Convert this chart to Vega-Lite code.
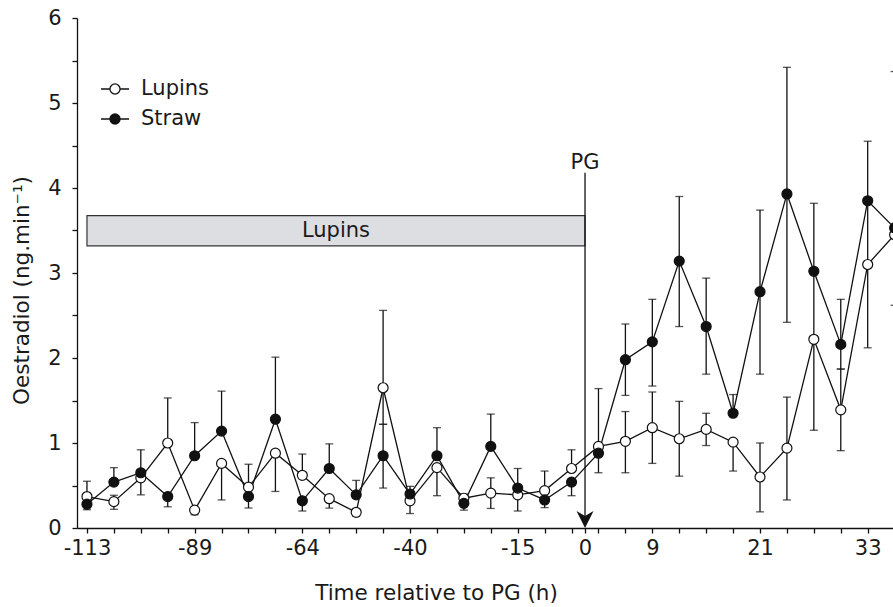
{
  "$schema": "https://vega.github.io/schema/vega-lite/v6.json",
  "autosize": {"type": "none"},
  "padding": {"left": 77, "top": 18, "right": 0, "bottom": 79},
  "width": 816,
  "height": 510,
  "background": "white",
  "config": {
    "view": {"stroke": null},
    "font": "DejaVu Sans",
    "axis": {
      "domainColor": "#111",
      "domainWidth": 1.3,
      "tickColor": "#111",
      "tickWidth": 1.3,
      "tickSize": 5,
      "labelFont": "DejaVu Sans",
      "labelFontSize": 21,
      "labelColor": "#1a1a1a",
      "labelOverlap": false,
      "labelBound": false,
      "titleFont": "DejaVu Sans",
      "titleFontSize": 21.5,
      "titleFontWeight": "normal",
      "titleColor": "#1a1a1a",
      "grid": false
    },
    "legend": {"labelFont": "DejaVu Sans"}
  },
  "datasets": {
    "obs": [
      {"series": "Lupins", "sample": 0, "value": 0.37, "lo": 0.37, "hi": 0.55},
      {"series": "Lupins", "sample": 1, "value": 0.31, "lo": 0.22, "hi": 0.385},
      {"series": "Lupins", "sample": 2, "value": 0.59, "lo": 0.39, "hi": 0.59},
      {"series": "Lupins", "sample": 3, "value": 1.0, "lo": 1.0, "hi": 1.53},
      {"series": "Lupins", "sample": 4, "value": 0.21, "lo": 0.155, "hi": 0.21},
      {"series": "Lupins", "sample": 5, "value": 0.76, "lo": 0.33, "hi": 0.76},
      {"series": "Lupins", "sample": 6, "value": 0.48, "lo": 0.48, "hi": 0.75},
      {"series": "Lupins", "sample": 7, "value": 0.88, "lo": 0.43, "hi": 0.88},
      {"series": "Lupins", "sample": 8, "value": 0.62, "lo": 0.62, "hi": 0.87},
      {"series": "Lupins", "sample": 9, "value": 0.345, "lo": 0.235, "hi": 0.345},
      {"series": "Lupins", "sample": 10, "value": 0.185, "lo": 0.14, "hi": 0.185},
      {"series": "Lupins", "sample": 11, "value": 1.65, "lo": 1.22, "hi": 2.56},
      {"series": "Lupins", "sample": 12, "value": 0.32, "lo": 0.17, "hi": 0.32},
      {"series": "Lupins", "sample": 13, "value": 0.71, "lo": 0.38, "hi": 0.71},
      {"series": "Lupins", "sample": 14, "value": 0.35, "lo": 0.35, "hi": 0.4},
      {"series": "Lupins", "sample": 15, "value": 0.41, "lo": 0.23, "hi": 0.59},
      {"series": "Lupins", "sample": 16, "value": 0.39, "lo": 0.2, "hi": 0.39},
      {"series": "Lupins", "sample": 17, "value": 0.44, "lo": 0.44, "hi": 0.67},
      {"series": "Lupins", "sample": 18, "value": 0.7, "lo": 0.7, "hi": 0.92},
      {"series": "Lupins", "sample": 19, "value": 0.96, "lo": 0.96, "hi": 1.64},
      {"series": "Lupins", "sample": 20, "value": 1.02, "lo": 0.65, "hi": 1.37},
      {"series": "Lupins", "sample": 21, "value": 1.18, "lo": 0.76, "hi": 1.6},
      {"series": "Lupins", "sample": 22, "value": 1.05, "lo": 0.61, "hi": 1.49},
      {"series": "Lupins", "sample": 23, "value": 1.16, "lo": 0.97, "hi": 1.35},
      {"series": "Lupins", "sample": 24, "value": 1.01, "lo": 0.67, "hi": 1.01},
      {"series": "Lupins", "sample": 25, "value": 0.6, "lo": 0.19, "hi": 1.0},
      {"series": "Lupins", "sample": 26, "value": 0.94, "lo": 0.33, "hi": 1.54},
      {"series": "Lupins", "sample": 27, "value": 2.22, "lo": 1.15, "hi": 2.22},
      {"series": "Lupins", "sample": 28, "value": 1.39, "lo": 0.91, "hi": 1.87},
      {"series": "Lupins", "sample": 29, "value": 3.1, "lo": 2.12, "hi": 3.1},
      {"series": "Lupins", "sample": 30, "value": 3.45, "lo": 2.62, "hi": 3.45},
      {"series": "Straw", "sample": 0, "value": 0.28, "lo": 0.215, "hi": 0.28},
      {"series": "Straw", "sample": 1, "value": 0.54, "lo": 0.54, "hi": 0.71},
      {"series": "Straw", "sample": 2, "value": 0.65, "lo": 0.65, "hi": 0.92},
      {"series": "Straw", "sample": 3, "value": 0.37, "lo": 0.25, "hi": 0.37},
      {"series": "Straw", "sample": 4, "value": 0.85, "lo": 0.85, "hi": 1.24},
      {"series": "Straw", "sample": 5, "value": 1.14, "lo": 1.14, "hi": 1.61},
      {"series": "Straw", "sample": 6, "value": 0.37, "lo": 0.235, "hi": 0.37},
      {"series": "Straw", "sample": 7, "value": 1.28, "lo": 1.28, "hi": 2.01},
      {"series": "Straw", "sample": 8, "value": 0.32, "lo": 0.2, "hi": 0.32},
      {"series": "Straw", "sample": 9, "value": 0.7, "lo": 0.7, "hi": 0.99},
      {"series": "Straw", "sample": 10, "value": 0.39, "lo": 0.39, "hi": 0.56},
      {"series": "Straw", "sample": 11, "value": 0.85, "lo": 0.47, "hi": 1.22},
      {"series": "Straw", "sample": 12, "value": 0.4, "lo": 0.4, "hi": 0.49},
      {"series": "Straw", "sample": 13, "value": 0.85, "lo": 0.85, "hi": 1.18},
      {"series": "Straw", "sample": 14, "value": 0.29, "lo": 0.21, "hi": 0.29},
      {"series": "Straw", "sample": 15, "value": 0.96, "lo": 0.96, "hi": 1.34},
      {"series": "Straw", "sample": 16, "value": 0.47, "lo": 0.47, "hi": 0.7},
      {"series": "Straw", "sample": 17, "value": 0.33, "lo": 0.24, "hi": 0.33},
      {"series": "Straw", "sample": 18, "value": 0.54, "lo": 0.38, "hi": 0.54},
      {"series": "Straw", "sample": 19, "value": 0.88, "lo": 0.65, "hi": 0.88},
      {"series": "Straw", "sample": 20, "value": 1.98, "lo": 1.56, "hi": 2.4},
      {"series": "Straw", "sample": 21, "value": 2.19, "lo": 1.67, "hi": 2.69},
      {"series": "Straw", "sample": 22, "value": 3.14, "lo": 2.37, "hi": 3.9},
      {"series": "Straw", "sample": 23, "value": 2.37, "lo": 1.81, "hi": 2.94},
      {"series": "Straw", "sample": 24, "value": 1.35, "lo": 1.35, "hi": 1.57},
      {"series": "Straw", "sample": 25, "value": 2.78, "lo": 1.81, "hi": 3.74},
      {"series": "Straw", "sample": 26, "value": 3.93, "lo": 2.42, "hi": 5.42},
      {"series": "Straw", "sample": 27, "value": 3.02, "lo": 2.22, "hi": 3.82},
      {"series": "Straw", "sample": 28, "value": 2.16, "lo": 1.87, "hi": 2.69},
      {"series": "Straw", "sample": 29, "value": 3.85, "lo": 3.1, "hi": 4.55},
      {"series": "Straw", "sample": 30, "value": 3.53, "lo": 3.53, "hi": 5.37}
    ],
    "band": [
      {"label": "Lupins", "sample": 0, "sample_end": 18.5, "value": 3.32, "value_end": 3.675, "label_at": 9.25, "label_value": 3.5}
    ],
    "pg": [
      {"label": "PG", "sample": 18.5, "value": 4.18, "value_end": 0.1}
    ]
  },
  "layer": [
    {
      "data": {"name": "band"},
      "mark": {"type": "rect", "fill": "#dcdee2", "stroke": "#333", "strokeWidth": 1.2},
      "encoding": {
        "x": {"field": "sample", "type": "quantitative"},
        "x2": {"field": "sample_end"},
        "y": {"field": "value", "type": "quantitative"},
        "y2": {"field": "value_end"}
      }
    },
    {
      "data": {"name": "band"},
      "mark": {"type": "text", "fontSize": 21, "color": "#1a1a1a", "baseline": "middle", "align": "center"},
      "encoding": {
        "x": {"field": "label_at", "type": "quantitative"},
        "y": {"field": "label_value", "type": "quantitative"},
        "text": {"field": "label"}
      }
    },
    {
      "data": {"name": "obs"},
      "mark": {"type": "rule", "color": "#111", "strokeWidth": 1.3},
      "encoding": {
        "x": {
          "field": "sample", "type": "quantitative",
          "scale": {"domain": [-0.37, 29.94], "nice": false, "zero": false},
          "axis": {
            "title": "Time relative to PG (h)",
            "values": [0, 1, 2, 3, 4, 5, 6, 7, 8, 9, 10, 11, 12, 13, 14, 15, 16, 17, 18, 18.5, 19, 20, 21, 22, 23, 24, 25, 26, 27, 28, 29],
            "tickCount": 100,
            "labelExpr": "datum.value == 0 ? '-113' : datum.value == 4 ? '-89' : datum.value == 8 ? '-64' : datum.value == 12 ? '-40' : datum.value == 16 ? '-15' : datum.value == 18.5 ? '0' : datum.value == 21 ? '9' : datum.value == 25 ? '21' : datum.value == 29 ? '33' : ''",
            "labelOverlap": false,
            "labelFlush": false,
            "labelPadding": 4,
            "titleX": 359,
            "titleY": 71,
            "titleAlign": "center",
            "titleBaseline": "alphabetic"
          }
        },
        "y": {
          "field": "lo", "type": "quantitative",
          "scale": {"domain": [0, 6], "nice": false, "zero": true},
          "axis": {
            "title": "Oestradiol (ng.min⁻¹)",
            "values": [0, 0.5, 1, 1.5, 2, 2.5, 3, 3.5, 4, 4.5, 5, 5.5, 6],
            "tickCount": 100,
            "labelExpr": "datum.value % 1 == 0 ? format(datum.value, 'd') : ''",
            "labelPadding": 11,
            "labelOverlap": false,
            "labelFlush": false,
            "titleX": -55,
            "titleY": 272,
            "titleAlign": "center",
            "titleBaseline": "middle",
            "titleAngle": -90
          }
        },
        "y2": {"field": "hi"}
      }
    },
    {
      "data": {"name": "obs"},
      "mark": {"type": "tick", "orient": "horizontal", "color": "#111", "thickness": 1.3, "size": 8},
      "encoding": {
        "x": {"field": "sample", "type": "quantitative"},
        "y": {"field": "lo", "type": "quantitative"}
      }
    },
    {
      "data": {"name": "obs"},
      "mark": {"type": "tick", "orient": "horizontal", "color": "#111", "thickness": 1.3, "size": 8},
      "encoding": {
        "x": {"field": "sample", "type": "quantitative"},
        "y": {"field": "hi", "type": "quantitative"}
      }
    },
    {
      "data": {"name": "obs"},
      "mark": {"type": "line", "color": "#111", "strokeWidth": 1.3},
      "encoding": {
        "x": {"field": "sample", "type": "quantitative"},
        "y": {"field": "value", "type": "quantitative"},
        "detail": {"field": "series"}
      }
    },
    {
      "data": {"name": "obs"},
      "mark": {"type": "point", "shape": "circle", "filled": true, "stroke": "#111", "strokeWidth": 1.2, "size": 100, "opacity": 1},
      "encoding": {
        "x": {"field": "sample", "type": "quantitative"},
        "y": {"field": "value", "type": "quantitative"},
        "fill": {
          "field": "series", "type": "nominal",
          "scale": {"domain": ["Lupins", "Straw"], "range": ["#ffffff", "#111111"]},
          "legend": {
            "title": null,
            "orient": "none",
            "legendX": 23,
            "legendY": 56,
            "padding": 0,
            "symbolType": "M-1,0L-0.36,0M0.36,0L1,0M0.36,0A0.36,0.36,0,1,1,-0.36,0A0.36,0.36,0,1,1,0.36,0Z",
            "symbolSize": 784,
            "symbolStrokeColor": "#111",
            "symbolStrokeWidth": 1.3,
            "symbolOpacity": 1,
            "labelFontSize": 21,
            "labelColor": "#1a1a1a",
            "labelOffset": 11,
            "rowPadding": 5
          }
        }
      }
    },
    {
      "data": {"name": "pg"},
      "mark": {"type": "rule", "color": "#111", "strokeWidth": 1.3},
      "encoding": {
        "x": {"field": "sample", "type": "quantitative"},
        "y": {"field": "value", "type": "quantitative"},
        "y2": {"field": "value_end"}
      }
    },
    {
      "data": {"name": "pg"},
      "mark": {"type": "point", "shape": "M-1,-1L0,-0.4L1,-1L0,1Z", "filled": true, "color": "#111", "size": 289, "opacity": 1},
      "encoding": {
        "x": {"field": "sample", "type": "quantitative"},
        "y": {"field": "value_end", "type": "quantitative"}
      }
    },
    {
      "data": {"name": "pg"},
      "mark": {"type": "text", "fontSize": 21, "color": "#1a1a1a", "baseline": "alphabetic", "align": "center", "dy": -4},
      "encoding": {
        "x": {"field": "sample", "type": "quantitative"},
        "y": {"field": "value", "type": "quantitative"},
        "text": {"field": "label"}
      }
    }
  ]
}
